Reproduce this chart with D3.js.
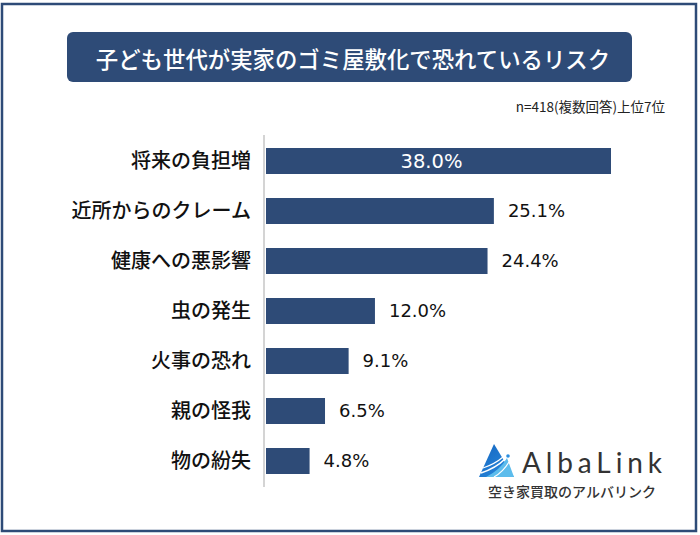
<!DOCTYPE html>
<html>
<head>
<meta charset="utf-8">
<script src="https://cdn.jsdelivr.net/npm/d3@7"></script>
<style>
  body { margin: 0; background: #fff; }
  svg { display: block; }
</style>
</head>
<body>
<div id="chart"></div>
<script>
// Chart data (top 7 answers, multiple choice, n=418)
var categories = ["将来の負担増", "近所からのクレーム", "健康への悪影響", "虫の発生", "火事の恐れ", "親の怪我", "物の紛失"];
var values = [38.0, 25.1, 24.4, 12.0, 9.1, 6.5, 4.8];

var titleText = "子ども世代が実家のゴミ屋敷化で恐れているリスク";
var noteText = "n=418(複数回答)上位7位";
var logoText = "AlbaLink";
var logoSub = "空き家買取のアルバリンク";

// Chart Params
var svgWidth = 700;
var svgHeight = 535;
var navy = "#2e4b77";
var jpFont = "'Noto Sans CJK JP', 'Noto Sans', sans-serif";

var svg = d3.select("#chart")
    .append("svg")
    .attr("width", svgWidth)
    .attr("height", svgHeight);

// outer frame
svg.append("rect")
    .attr("x", 2)
    .attr("y", 4)
    .attr("width", 694)
    .attr("height", 527)
    .attr("fill", "#fff")
    .attr("stroke", navy)
    .attr("stroke-width", 2.5);

// title box
svg.append("rect")
    .attr("x", 67)
    .attr("y", 32)
    .attr("width", 565)
    .attr("height", 50)
    .attr("rx", 6)
    .attr("fill", navy);

svg.append("text")
    .attr("x", 353)
    .attr("y", 58)
    .attr("text-anchor", "middle")
    .attr("dominant-baseline", "central")
    .attr("fill", "#fff")
    .style("font-family", jpFont)
    .style("font-size", "22.4px")
    .style("font-weight", 500)
    .text(titleText);

// note
svg.append("text")
    .attr("x", 665)
    .attr("y", 112)
    .attr("text-anchor", "end")
    .attr("fill", "#222")
    .style("font-family", jpFont)
    .style("font-size", "13.5px")
    .text(noteText);

// scales
var xScale = d3.scaleLinear()
    .domain([0, 38])
    .range([266, 611]);

var yScale = d3.scaleBand()
    .domain(categories)
    .range([136, 486])
    .paddingInner(0.48)
    .paddingOuter(0.24);

// vertical axis line
svg.append("line")
    .attr("x1", 264)
    .attr("x2", 264)
    .attr("y1", 135)
    .attr("y2", 487)
    .attr("stroke", "#d4d4d4")
    .attr("stroke-width", 2);

var rows = categories.map(function(c, i) { return { cat: c, val: values[i] }; });

// bars
svg.selectAll("rect.bar")
    .data(rows)
    .join("rect")
    .attr("class", "bar")
    .attr("x", xScale(0))
    .attr("y", d => yScale(d.cat))
    .attr("width", d => xScale(d.val) - xScale(0))
    .attr("height", yScale.bandwidth())
    .attr("fill", navy);

// category labels
svg.selectAll("text.cat")
    .data(rows)
    .join("text")
    .attr("class", "cat")
    .attr("x", 251)
    .attr("y", d => yScale(d.cat) + yScale.bandwidth() / 2)
    .attr("dy", "0.36em")
    .attr("text-anchor", "end")
    .attr("fill", "#111")
    .style("font-family", jpFont)
    .style("font-size", "20px")
    .style("font-weight", 500)
    .text(d => d.cat);

// value labels (first one sits inside the bar in white)
svg.selectAll("text.val")
    .data(rows)
    .join("text")
    .attr("class", "val")
    .attr("x", (d, i) => i === 0 ? (xScale(0) + xScale(d.val)) / 2 - 7 : xScale(d.val) + 14)
    .attr("y", d => yScale(d.cat) + yScale.bandwidth() / 2)
    .attr("dy", "0.36em")
    .attr("text-anchor", (d, i) => i === 0 ? "middle" : "start")
    .attr("fill", (d, i) => i === 0 ? "#fff" : "#111")
    .style("font-family", "'DejaVu Sans', Verdana, sans-serif")
    .style("font-size", (d, i) => i === 0 ? "19.5px" : "18px")
    .text(d => d.val.toFixed(1) + "%");

// logo
var logo = svg.append("g");
var defs = svg.append("defs");
var grad = defs.append("linearGradient")
    .attr("id", "logoGrad")
    .attr("x1", "0").attr("y1", "0")
    .attr("x2", "1").attr("y2", "1");
grad.append("stop").attr("offset", "0%").attr("stop-color", "#1565c0");
grad.append("stop").attr("offset", "100%").attr("stop-color", "#2a8ee0");

logo.append("path")
    .attr("d", "M494,444 L479,477 L514,477 Z")
    .attr("fill", "url(#logoGrad)");
// light blue lower-right sweep
logo.append("path")
    .attr("d", "M486,477 Q500,470 507,458 L514,477 Z")
    .attr("fill", "#5cbcec");
// white stripes
logo.append("path")
    .attr("d", "M481,473 Q496,468 505,459")
    .attr("fill", "none")
    .attr("stroke", "#fff")
    .attr("stroke-width", 1.6);
logo.append("path")
    .attr("d", "M483,468 Q495,464 503,457")
    .attr("fill", "none")
    .attr("stroke", "#fff")
    .attr("stroke-width", 1.2);
logo.append("path")
    .attr("d", "M494,477 Q503,472 509,462")
    .attr("fill", "none")
    .attr("stroke", "#fff")
    .attr("stroke-width", 1.2);
logo.append("circle")
    .attr("cx", 508)
    .attr("cy", 456)
    .attr("r", 1.8)
    .attr("fill", "#2a8ee0");

logo.append("text")
    .attr("x", 522)
    .attr("y", 473)
    .attr("textLength", 140)
    .attr("lengthAdjust", "spacing")
    .attr("fill", "#333")
    .style("font-family", "Lato, 'Open Sans', sans-serif")
    .style("font-size", "28px")
    .text(logoText);

logo.append("text")
    .attr("x", 572)
    .attr("y", 497)
    .attr("text-anchor", "middle")
    .attr("fill", "#333")
    .style("font-family", jpFont)
    .style("font-size", "14px")
    .style("font-weight", 500)
    .text(logoSub);
</script>
</body>
</html>
